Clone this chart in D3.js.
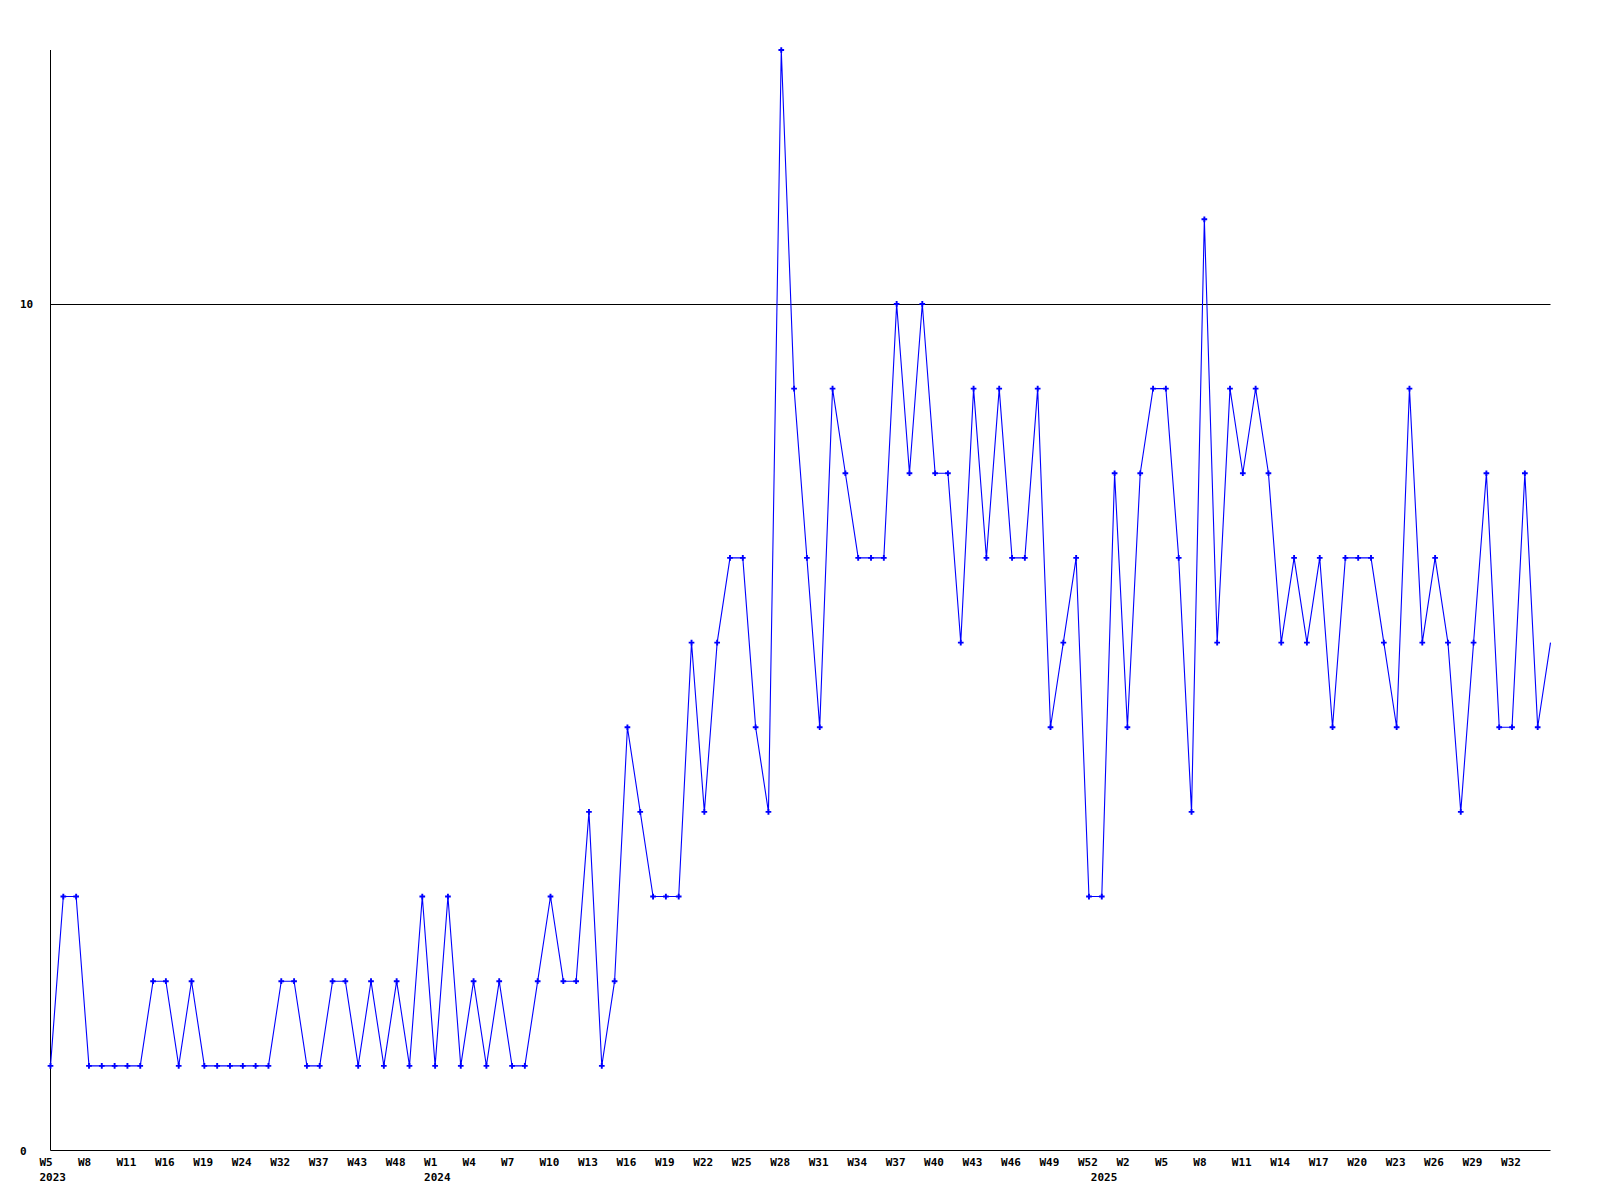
<!DOCTYPE html>
<html>
<head>
<meta charset="utf-8">
<script src="https://cdn.jsdelivr.net/npm/d3@7"></script>
<style>
  body { margin: 0; background: #fff; }
  svg { display: block; }
  text { font-family: "DejaVu Sans Mono", "Liberation Mono", monospace; font-weight: bold; font-size: 11px; fill: #000; }
</style>
</head>
<body>
<svg id="chart" width="1600" height="1200"></svg>
<script>
// Weekly values, one per point, in order
const values = [
  1,3,3,1,1,1,1,1,2,2,
  1,2,1,1,1,1,1,1,2,2,
  1,1,2,2,1,2,1,2,1,3,
  1,3,1,2,1,2,1,1,2,3,
  2,2,4,1,2,5,4,3,3,3,
  6,4,6,7,7,5,4,13,9,7,
  5,9,8,7,7,7,10,8,10,8,
  8,6,9,7,9,7,7,9,5,6,
  7,3,3,8,5,8,9,9,7,4,
  11,6,9,8,9,8,6,7,6,7,
  5,7,7,7,6,5,9,6,7,6,
  4,6,8,5,5,8,5,6
];

// Week labels shown on every third point
const tickLabels = [
  "W5","W8","W11","W16","W19","W24","W32","W37","W43","W48",
  "W1","W4","W7","W10","W13","W16","W19","W22","W25","W28","W31","W34","W37","W40","W43","W46","W49","W52",
  "W2","W5","W8","W11","W14","W17","W20","W23","W26","W29","W32"
];
const tickIndex = tickLabels.map((_, i) => i * 3);

// Year labels at the first point of each year
const yearLabels = ["2023", "2024", "2025"];
const yearIndex = [0, 30, 82];

// Y axis labels / gridline
const yTicks = [0, 10];
const yMax = 13;

(function () {
  const svg = d3.select("#chart");
  const mLeft = 50.5, mRight = 1550.5, mTop = 50, mBottom = 1150.5;

  const x = d3.scaleLinear().domain([0, values.length - 1]).range([mLeft, mRight]);
  const y = d3.scaleLinear().domain([0, yMax]).range([mBottom, mTop]);

  // gridline at 10
  svg.append("g").selectAll("line")
    .data(yTicks.filter(t => t !== 0))
    .join("line")
    .attr("x1", mLeft).attr("x2", mRight)
    .attr("y1", d => Math.round(y(d)) + 0.5).attr("y2", d => Math.round(y(d)) + 0.5)
    .attr("stroke", "#000").attr("stroke-width", 1);

  // axes
  svg.append("line")
    .attr("x1", mLeft).attr("x2", mLeft).attr("y1", mTop).attr("y2", mBottom)
    .attr("stroke", "#000").attr("stroke-width", 1);
  svg.append("line")
    .attr("x1", mLeft).attr("x2", mRight).attr("y1", mBottom).attr("y2", mBottom)
    .attr("stroke", "#000").attr("stroke-width", 1);

  // y labels
  svg.append("g").selectAll("text")
    .data(yTicks)
    .join("text")
    .attr("x", 20)
    .attr("y", d => y(d) + 4)
    .attr("text-anchor", "start")
    .text(d => d);

  // x labels
  svg.append("g").selectAll("text")
    .data(tickIndex)
    .join("text")
    .attr("x", d => x(d) - 11)
    .attr("y", 1166)
    .attr("text-anchor", "start")
    .text((d, i) => tickLabels[i]);

  svg.append("g").selectAll("text")
    .data(yearIndex)
    .join("text")
    .attr("x", d => x(d) - 11)
    .attr("y", 1180.5)
    .attr("text-anchor", "start")
    .text((d, i) => yearLabels[i]);

  // line
  const line = d3.line().x((d, i) => x(i)).y(d => y(d));
  svg.append("path")
    .datum(values)
    .attr("d", line)
    .attr("fill", "none")
    .attr("stroke", "#0000ff")
    .attr("stroke-width", 1.1);

  // point markers (last point has none in the reference)
  const cross = d3.symbol().type(d3.symbolCross).size(18);
  svg.append("g").selectAll("path")
    .data(values.slice(0, -1))
    .join("path")
    .attr("transform", (d, i) => `translate(${x(i)},${y(d)})`)
    .attr("d", cross)
    .attr("fill", "#0000ff");
})();
</script>
</body>
</html>
